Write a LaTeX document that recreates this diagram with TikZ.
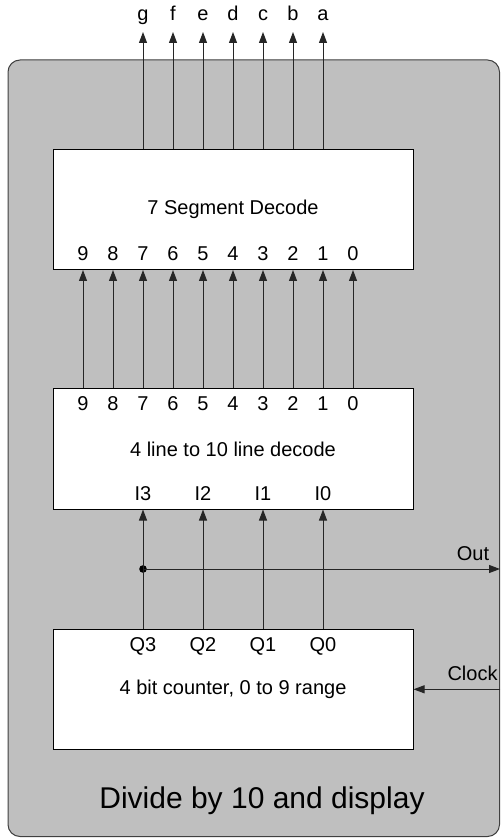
\documentclass[tikz,border=0pt]{standalone}
\usepackage{fontspec}
\setmainfont{Liberation Sans}
\usetikzlibrary{arrows.meta}

\begin{document}
\begin{tikzpicture}[x=0.5pt, y=-0.5pt,
                font=\fontsize{10}{12}\selectfont,
                block/.style={draw=black, fill=white, line width=0.5pt, minimum width=180pt, minimum height=60pt, inner sep=0pt},
                pinlbl/.style={anchor=base, inner sep=0pt},
                outlbl/.style={anchor=base, inner sep=0pt, text depth=0pt, outer sep=5.5pt},
                dot/.style={circle, fill=black, inner sep=0pt, minimum size=3.8pt},
                arrow/.style={-{Triangle[length=5.5pt, width=4pt]}, line width=0.5pt, draw=black!85, fill=black!85}
            ]
                \useasboundingbox (0,0) rectangle (500,838);

                % Panel
                \draw[fill=black!25, draw=black!75, line width=0.5pt, rounded corners=6pt] (8,60) rectangle (499.5,836.5);
                \node (title) [anchor=base, inner sep=0pt, font=\fontsize{15}{18}\selectfont] at (262,808) {Divide by 10 and display};

                % Nodes
                \node (seg) [block] at (233,209.5) {7 Segment Decode};
                \node (dec) [block] at (233,449) {4 line to 10 line decode};
                \node (cnt) [block] at (233,689.3) {4 bit counter, 0 to 9 range};

                \foreach \o [count=\k from 0] in {g,f,e,d,c,b,a}
                    \node (o\o) [outlbl] at (143+30*\k,21) {\o};
                \foreach \d [count=\k from 0] in {9,8,7,6,5,4,3,2,1,0} {
                    \node (s\d) [pinlbl] at (83+30*\k,261) {\d};
                    \node (d\d) [pinlbl] at (83+30*\k,410.7) {\d};
                }
                \foreach \i [count=\k from 0] in {3,2,1,0} {
                    \node (i\i) [pinlbl] at (143+60*\k,500.7) {I\i};
                    \node (q\i) [pinlbl] at (143+60*\k,651.7) {Q\i};
                }

                \node (tap) [dot] at (143,569) {};
                \coordinate (outpt) at (500,569);
                \coordinate (clkin) at (500,689.3);
                \node (outtxt) [pinlbl] at (473,560) {Out};
                \node (clktxt) [pinlbl] at (472.5,680) {Clock};

                % Arrows
                \foreach \o in {g,f,e,d,c,b,a}
                    \draw [arrow] (seg.north -| o\o) -- (o\o.south);
                \foreach \d in {9,8,7,6,5,4,3,2,1,0}
                    \draw [arrow] (dec.north -| d\d) -- (seg.south -| s\d);
                \foreach \i in {3,2,1,0}
                    \draw [arrow] (cnt.north -| q\i) -- (dec.south -| i\i);
                \draw [arrow] (tap.center) -- (outpt);
                \draw [arrow] (clkin) -- (cnt.east);
            \end{tikzpicture}
\end{document}
